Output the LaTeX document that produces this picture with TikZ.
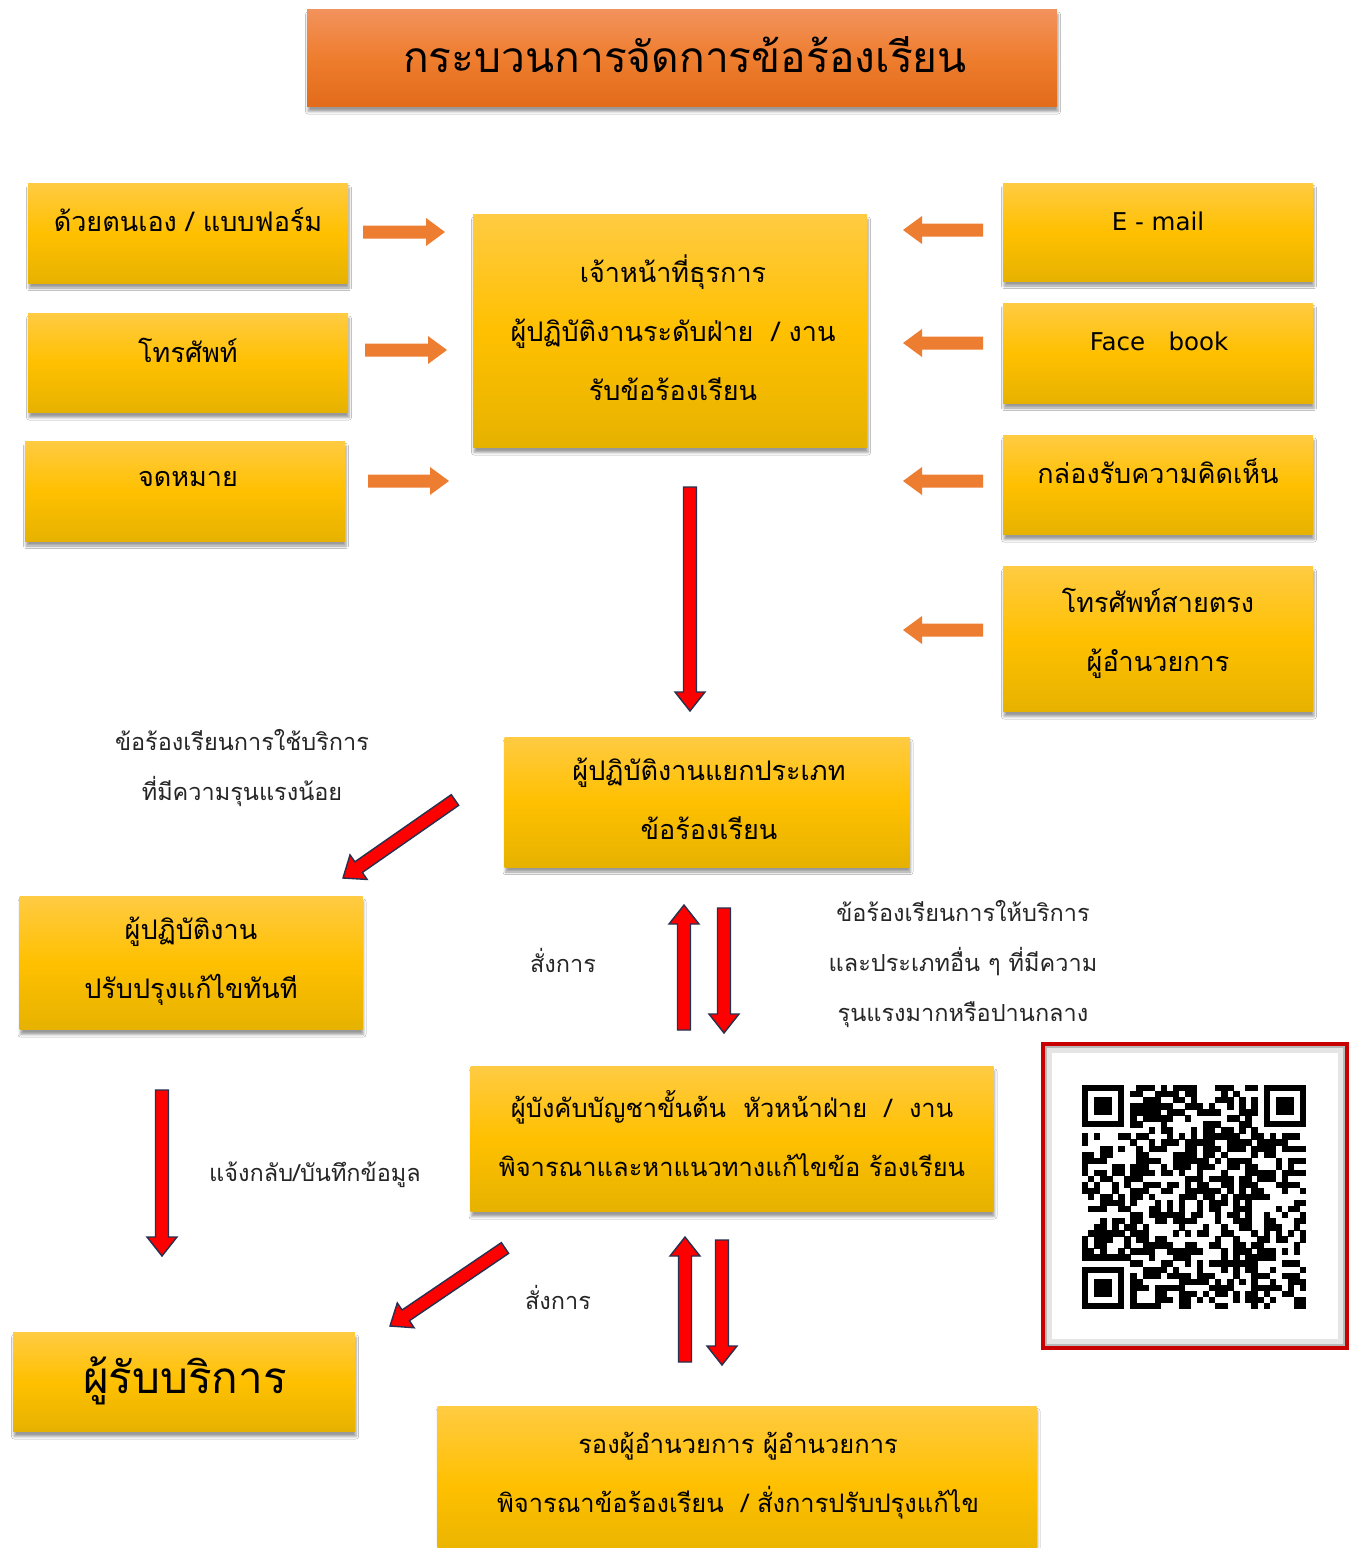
\documentclass[tikz,border=0pt]{standalone}
\usepackage{fontspec}
\newfontfamily\thai[Script=Thai]{Loma}
\newfontfamily\latinsans{DejaVu Sans}
\usetikzlibrary{calc,shadows.blur}
\definecolor{boxtop}{HTML}{FFCB42}
\definecolor{boxmid}{HTML}{FFC000}
\definecolor{boxbot}{HTML}{E6B200}
\definecolor{ttop}{HTML}{F2925C}
\definecolor{tmid}{HTML}{EE7D2E}
\definecolor{tbot}{HTML}{E26B1A}
\definecolor{orfill}{HTML}{ED7D31}
\definecolor{arrowred}{HTML}{FF0000}
\definecolor{arrowedge}{HTML}{26304F}
\definecolor{qrred}{HTML}{C80000}
\tikzset{
  ybox/.style={draw=none, inner sep=0pt, top color=boxtop, bottom color=boxbot, middle color=boxmid,
    blur shadow={shadow xshift=1pt, shadow yshift=-5pt, shadow blur radius=2.5pt, shadow opacity=40}},
  tbox/.style={draw=none, inner sep=0pt, top color=ttop, bottom color=tbot, middle color=tmid,
    blur shadow={shadow xshift=1pt, shadow yshift=-5pt, shadow blur radius=2.5pt, shadow opacity=40}},
  txt/.style={font=\thai\fontsize{27}{59}\selectfont, align=center, inner sep=0pt, text=black},
  txtn/.style={font=\thai\fontsize{25.5}{59}\selectfont, align=center, inner sep=0pt, text=black},
  lattxt/.style={font=\latinsans\fontsize{24.5}{30}\selectfont, align=center, inner sep=0pt, text=black},
  lbl/.style={font=\thai\fontsize{23.5}{50}\selectfont, align=center, inner sep=0pt, text=black!85},
  bigtxt/.style={font=\thai\fontsize{44}{50}\selectfont, align=center, inner sep=0pt, text=black},
  blockarrow/.style n args={3}{to path={
    let \p1=(\tikztostart), \p2=(\tikztotarget),
        \n1={atan2(\y2-\y1,\x2-\x1)}, \n2={veclen(\x2-\x1,\y2-\y1)} in
    ($(\tikztostart)+(\n1+90:#1)$) -- ++(\n1:\n2-#3) -- ++(\n1+90:#2-#1)
    -- (\tikztotarget) -- ($(\tikztotarget)+(\n1+180:#3)+(\n1-90:#2)$)
    -- ++(\n1+90:#2-#1) -- ($(\tikztostart)+(\n1-90:#1)$) -- cycle}},
  redarr/.style={fill=arrowred, draw=arrowedge, line width=1.4pt, blockarrow={6.5pt}{15pt}{19pt}},
  orarr/.style={fill=orfill, draw=none, blockarrow={6.5pt}{14pt}{19pt}},
}
\begin{document}
\begin{tikzpicture}[x=1pt,y=-1pt]
\useasboundingbox (0,0) rectangle (1355,1548);
\fill[white] (0,0) rectangle (1355,1548);

% title
\node[tbox, minimum width=750pt, minimum height=97pt] (title) at (682,58) {};
\node[font=\thai\fontsize{42.5}{48}\selectfont, inner sep=0pt] (titlet) at (685,55) {กระบวนการจัดการข้อร้องเรียน};

% left input boxes
\node[ybox, minimum width=320pt, minimum height=100pt] (b1) at (188,233) {};
\node[txt] (b1t) at (188,220) {ด้วยตนเอง / แบบฟอร์ม};
\node[ybox, minimum width=320pt, minimum height=99pt] (b2) at (188,363) {};
\node[txt] (b2t) at (188,350) {โทรศัพท์};
\node[ybox, minimum width=320pt, minimum height=100pt] (b3) at (185,491) {};
\node[txt] (b3t) at (188,479) {จดหมาย};

% central receiving box
\node[ybox, minimum width=394pt, minimum height=233pt] (c1) at (670,331) {};
\node[txt] (c1t) at (673,328) {เจ้าหน้าที่ธุรการ\\ผู้ปฏิบัติงานระดับฝ่าย \ / งาน\\รับข้อร้องเรียน};

% right input boxes
\node[ybox, minimum width=310pt, minimum height=98pt] (r1) at (1158,232) {};
\node[lattxt] (r1t) at (1158,221) {E - mail};
\node[ybox, minimum width=310pt, minimum height=100pt] (r2) at (1158,353) {};
\node[lattxt] (r2t) at (1159,341) {Face \ \ book};
\node[ybox, minimum width=310pt, minimum height=99pt] (r3) at (1158,485) {};
\node[txt] (r3t) at (1158,471) {กล่องรับความคิดเห็น};
\node[ybox, minimum width=310pt, minimum height=145pt] (r4) at (1158,639) {};
\node[txt] (r4t) at (1158,633) {โทรศัพท์สายตรง\\ผู้อำนวยการ};

% orange arrows
\coordinate (oa1) at (363,232); \coordinate (oa1e) at (445,232);
\coordinate (oa2) at (365,350); \coordinate (oa2e) at (447,350);
\coordinate (oa3) at (368,481); \coordinate (oa3e) at (449,481);
\coordinate (ob1) at (983,230); \coordinate (ob1e) at (903,230);
\coordinate (ob2) at (983,343); \coordinate (ob2e) at (903,343);
\coordinate (ob3) at (983,481); \coordinate (ob3e) at (903,481);
\coordinate (ob4) at (983,630); \coordinate (ob4e) at (903,630);
\foreach \s in {oa1,oa2,oa3,ob1,ob2,ob3,ob4}{\path[orarr] (\s) to (\s e);}

% main down arrow
\coordinate (d1s) at (690,487); \coordinate (d1e) at (690,711);
\draw[redarr] (d1s) to (d1e);

% sorting box
\node[ybox, minimum width=405pt, minimum height=130pt] (m1) at (707,802) {};
\node[txt] (m1t) at (709,799) {ผู้ปฏิบัติงานแยกประเภท\\ข้อร้องเรียน};

% left label and diagonal arrow
\node[lbl] (l1) at (242,768) {ข้อร้องเรียนการใช้บริการ\\ที่มีความรุนแรงน้อย};
\coordinate (g1s) at (455,800); \coordinate (g1e) at (343,878);
\draw[redarr] (g1s) to (g1e);

% immediate fix box
\node[ybox, minimum width=343pt, minimum height=133pt] (m2) at (191,963) {};
\node[txt] (m2t) at (191,961) {ผู้ปฏิบัติงาน\\ปรับปรุงแก้ไขทันที};

% up/down pair 1
\node[lbl] (s1) at (563,960) {สั่งการ};
\coordinate (u1s) at (684,1030); \coordinate (u1e) at (684,905);
\coordinate (v1s) at (724,908); \coordinate (v1e) at (724,1033);
\draw[redarr] (u1s) to (u1e);
\draw[redarr] (v1s) to (v1e);
\node[lbl] (l2) at (963,964) {ข้อร้องเรียนการให้บริการ\\และประเภทอื่น ๆ ที่มีความ\\รุนแรงมากหรือปานกลาง};

% left down arrow and label
\coordinate (d2s) at (162,1090); \coordinate (d2e) at (162,1256);
\draw[redarr] (d2s) to (d2e);
\node[lbl] (l3) at (315,1175) {แจ้งกลับ/บันทึกข้อมูล};

% supervisor box
\node[ybox, minimum width=523pt, minimum height=145pt] (m3) at (732,1139) {};
\node[txtn] (m3t) at (732,1134) {ผู้บังคับบัญชาขั้นต้น \ หัวหน้าฝ่าย \ / \ งาน\\พิจารณาและหาแนวทางแก้ไขข้อ ร้องเรียน};

% diagonal 2 and pair 2
\coordinate (g2s) at (505,1248); \coordinate (g2e) at (390,1326);
\draw[redarr] (g2s) to (g2e);
\node[lbl] (s2) at (558,1297) {สั่งการ};
\coordinate (u2s) at (685,1362); \coordinate (u2e) at (685,1237);
\coordinate (v2s) at (722,1240); \coordinate (v2e) at (722,1365);
\draw[redarr] (u2s) to (u2e);
\draw[redarr] (v2s) to (v2e);

% customer box
\node[ybox, minimum width=342pt, minimum height=99pt] (cust) at (184,1382) {};
\node[bigtxt] (custt) at (185,1381) {ผู้รับบริการ};

% bottom box
\node[ybox, minimum width=599pt, minimum height=158pt] (bot) at (737,1485) {};
\node[txtn] (bott) at (738,1476) {รองผู้อำนวยการ ผู้อำนวยการ\\พิจารณาข้อร้องเรียน \ / สั่งการปรับปรุงแก้ไข};

% QR frame
\fill[qrred] (1041,1042) rectangle (1349,1350);
\fill[gray!55] (1045,1046) rectangle (1345,1346);
\fill[gray!20] (1047,1048) rectangle (1343,1344);
\fill[white] (1052,1053) rectangle (1338,1339);
\def\qx{1082}\def\qy{1085}\def\qm{6.05}
\pgfmathsetseed{4321}
\foreach \i in {0,...,36}{
  \foreach \j in {0,...,36}{
    \pgfmathtruncatemacro{\skipit}{((\i<8)&&(\j<8))||((\i>28)&&(\j<8))||((\i<8)&&(\j>28))}
    \pgfmathrandominteger{\bit}{0}{9}
    \ifnum\skipit=0 \ifnum\bit<5
      \fill[black] ({\qx+\i*\qm},{\qy+\j*\qm}) rectangle ++({\qm+0.3},{\qm+0.3});
    \fi\fi
  }}
\foreach \a/\b in {0/0,30/0,0/30}{
  \fill[black] ({\qx+\a*\qm},{\qy+\b*\qm}) rectangle ++({7*\qm},{7*\qm});
  \fill[white] ({\qx+(\a+1)*\qm},{\qy+(\b+1)*\qm}) rectangle ++({5*\qm},{5*\qm});
  \fill[black] ({\qx+(\a+2)*\qm},{\qy+(\b+2)*\qm}) rectangle ++({3*\qm},{3*\qm});
}
\end{tikzpicture}
\end{document}
